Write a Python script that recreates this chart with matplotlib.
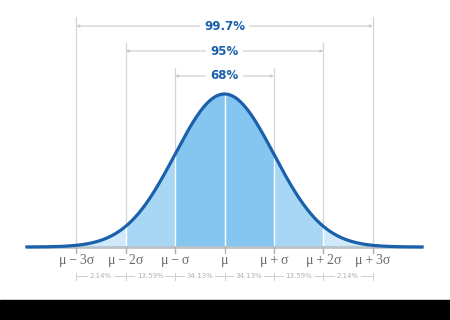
import numpy as np
import matplotlib.pyplot as plt

# sigma positions and labels
sigmas = [-3, -2, -1, 0, 1, 2, 3]
tick_labels = ['μ\u2009−\u20093σ', 'μ\u2009−\u20092σ', 'μ\u2009−\u2009σ', 'μ',
               'μ\u2009+\u2009σ', 'μ\u2009+\u20092σ', 'μ\u2009+\u20093σ']
band_pcts = ['2.14%', '13.59%', '34.13%', '34.13%', '13.59%', '2.14%']
bracket_k = [3, 2, 1]
bracket_labels = ['99.7%', '95%', '68%']
bracket_y = [0.576, 0.511, 0.446]
line_top = [0.600, 0.533, 0.468]

def pdf(x):
    return np.exp(-x**2 / 2) / np.sqrt(2 * np.pi)

fig = plt.figure(figsize=(4.5, 3.2), dpi=100)
ax = fig.add_axes([0, 0, 1, 1])
ax.set_xlim(-4.545, 4.565)
ax.set_ylim(-0.1903, 0.644)
ax.axis('off')

blue = '#1a60aa'
grey_line = '#d3d6d8'
band_colors = {1: '#84c6f0', 2: '#a7d7f5', 3: '#cfe9fa'}

# grey guide lines from brackets down to the ticks
for k, top in zip(bracket_k, line_top):
    for s in (-k, k):
        ax.plot([s, s], [-0.016, top], color=grey_line, lw=0.9, zorder=1)

# filled bands
for k in (3, 2, 1):
    for lo, hi in ((-k, -k + 1), (k - 1, k)):
        xs = np.linspace(lo, hi, 100)
        ax.fill_between(xs, 0, pdf(xs), color=band_colors[k], lw=0, zorder=2)

# white dividers inside the fill
for s in sigmas[1:-1]:
    ax.plot([s, s], [0, pdf(s)], color='white', lw=1.0, zorder=3)

# baseline and curve
ax.plot([-4, 4], [0, 0], color='#b9c3ca', lw=2, zorder=3, solid_capstyle='butt')
x = np.linspace(-4, 4, 600)
ax.plot(x, pdf(x), color=blue, lw=2.3, zorder=4)

# brackets
for k, lab, y in zip(bracket_k, bracket_labels, bracket_y):
    ax.annotate('', xy=(-k, y), xytext=(k, y),
                arrowprops=dict(arrowstyle='<|-|>', color='#c8cbcd', lw=0.8,
                                mutation_scale=4, shrinkA=0, shrinkB=0), zorder=5)
    ax.text(0, y, lab, ha='center', va='center', color=blue, fontsize=8.5,
            fontweight='bold', family='DejaVu Sans',
            bbox=dict(facecolor='white', edgecolor='none', pad=3), zorder=6)

# ticks and tick labels
for s, lab in zip(sigmas, tick_labels):
    ax.plot([s, s], [0, -0.016], color='#b0b0b0', lw=0.9, zorder=3)
    ax.text(s, -0.036, lab, ha='center', va='center', color='#6a6a6a',
            fontsize=10, family=['Liberation Serif', 'DejaVu Serif'])

# percentage row
py = -0.0765
ax.plot([-3, 3], [py, py], color='#cfcfcf', lw=0.7, zorder=1)
for s in sigmas:
    ax.plot([s, s], [py - 0.009, py + 0.009], color='#cfcfcf', lw=0.7)
for i, p in enumerate(band_pcts):
    ax.text(sigmas[i] + 0.5, py, p, ha='center', va='center', color='#b0b0b0',
            fontsize=5, family='DejaVu Sans',
            bbox=dict(facecolor='white', edgecolor='none', pad=1.2), zorder=2)

# dark band at the bottom
ax.axhspan(-0.1903, -0.138, color='black', zorder=7)

fig.savefig('out.png', dpi=100)
